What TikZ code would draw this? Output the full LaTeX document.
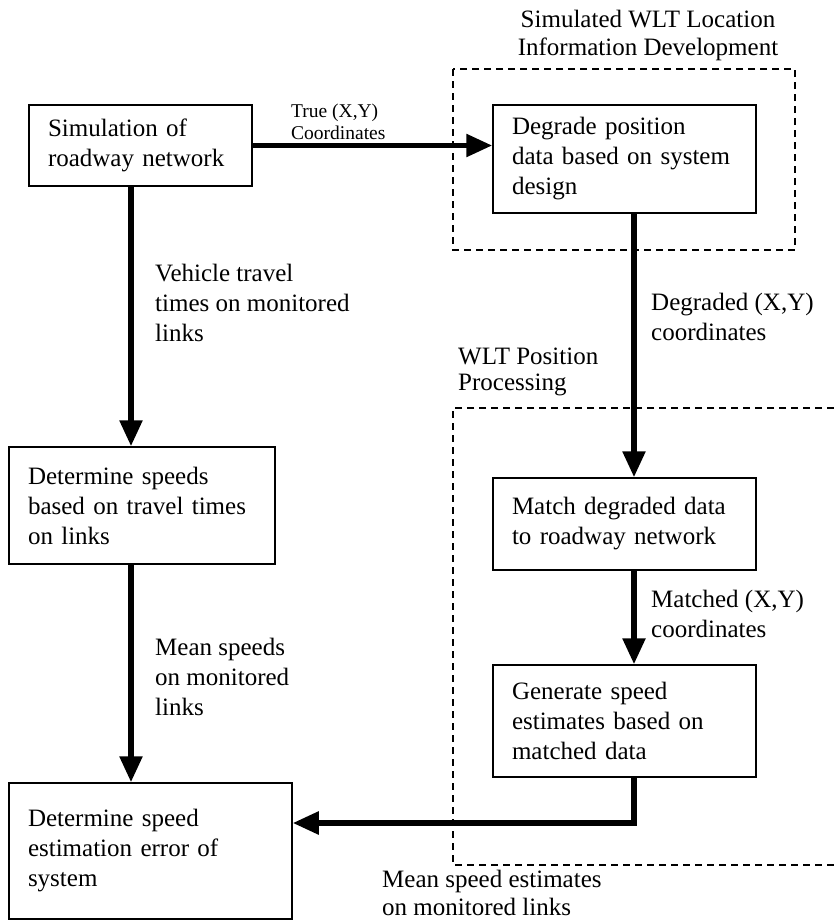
\documentclass[tikz,border=0pt]{standalone}
\usepackage{fontspec}
\setmainfont{Liberation Serif}
\usetikzlibrary{arrows.meta}

\begin{document}
\begin{tikzpicture}[x=1pt,y=-1pt,
    box/.style={draw, line width=1.5pt, inner xsep=19pt, inner ysep=0pt, align=left,
      font=\fontsize{25}{30}\selectfont},
    lbl/.style={inner sep=0pt, anchor=base west, align=left, font=\fontsize{25}{30}\selectfont},
    small/.style={inner sep=0pt, anchor=base west, align=left, font=\fontsize{19.5}{22}\selectfont},
    flow/.style={line width=5.5pt, -{Triangle[length=26pt,width=22pt]}},
    group/.style={line width=1.5pt, dash pattern=on 7pt off 5pt}]
  \useasboundingbox (0,0) rectangle (834,924);
  % group frames
  \draw[group] (453,69) rectangle (795,250);
  \draw[group] (834,408) -- (453,408) -- (453,865) -- (834,865);
  \node[align=center, inner sep=0pt, font=\fontsize{25}{28}\selectfont] (simtitle) at (648,55)
    [anchor=base] {Simulated WLT Location\\Information Development};
  \node[lbl, font=\fontsize{25}{26}\selectfont] (proctitle) at (458,390) {WLT Position\\Processing};
  % boxes
  \node[box, minimum width=223pt, minimum height=81pt, text width=185pt] (simnet) at (140.5,145.5)
    {Simulation of\\roadway network};
  \node[box, minimum width=263pt, minimum height=108pt, text width=225pt] (degrade) at (624.5,159)
    {Degrade position\\data based on system\\design};
  \node[box, minimum width=266pt, minimum height=117pt, text width=228pt] (speeds) at (142,505.5)
    {Determine speeds\\based on travel times\\on links};
  \node[box, minimum width=263pt, minimum height=92pt, text width=225pt] (match) at (624.5,524)
    {Match degraded data\\to roadway network};
  \node[box, minimum width=263pt, minimum height=112pt, text width=225pt] (generate) at (624.5,721)
    {Generate speed\\estimates based on\\matched data};
  \node[box, minimum width=283pt, minimum height=136pt, text width=245pt] (error) at (150.5,851)
    {Determine speed\\estimation error of\\system};
  \coordinate (xl) at (131,0);
  \coordinate (xr) at (634,0);
  \coordinate (bend) at (634,823);
  % connectors
  \draw[flow] (simnet.east) -- (simnet.east -| degrade.west);
  \draw[flow] (simnet.south -| xl) -- (speeds.north -| xl);
  \draw[flow] (speeds.south -| xl) -- (error.north -| xl);
  \draw[flow] (degrade.south -| xr) -- (match.north -| xr);
  \draw[flow] (match.south -| xr) -- (generate.north -| xr);
  \draw[flow] (generate.south -| xr) -- (bend) -- (bend -| error.east);
  % labels
  \node[small] (truexy) at (291,139) {True (X,Y)\\Coordinates};
  \node[lbl] (vtt) at (155,341) {Vehicle travel\\times on monitored\\links};
  \node[lbl] (msp) at (155,715) {Mean speeds\\on monitored\\links};
  \node[lbl] (degxy) at (651,340) {Degraded (X,Y)\\coordinates};
  \node[lbl] (matxy) at (651,637) {Matched (X,Y)\\coordinates};
  \node[lbl, font=\fontsize{25}{28}\selectfont] (mse) at (382,915) {Mean speed estimates\\on monitored links};
\end{tikzpicture}
\end{document}
